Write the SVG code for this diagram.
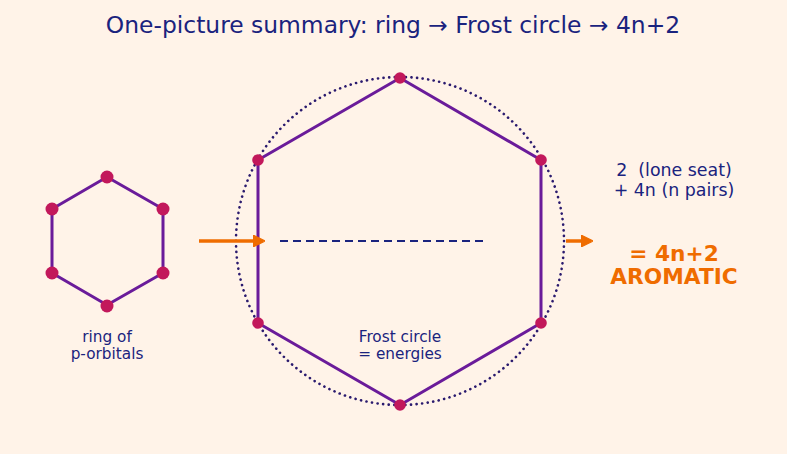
<svg xmlns="http://www.w3.org/2000/svg" width="787" height="454" viewBox="0 0 787 454">
<defs>
<style>
text{font-family:"DejaVu Sans","Liberation Sans",sans-serif;fill:#1a237e;text-anchor:middle;white-space:pre}
.hex{fill:none;stroke:#6a1b9a;stroke-width:3;stroke-linejoin:round}
.dot{fill:#c2185b}
.arr{stroke:#ef6c00;stroke-width:3.5;fill:none;marker-end:url(#ah)}
.big{fill:#ef6c00;font-weight:bold;font-size:21.7px}
.lbl{font-size:15.3px}
.cnt{font-size:17.4px}
</style>
<marker id="ah" viewBox="0 0 10 10" refX="6" refY="5" markerWidth="3.5" markerHeight="3.5" orient="auto" markerUnits="strokeWidth">
<path d="M0,0 L10,5 L0,10 z" fill="#ef6c00" stroke="#ef6c00" stroke-linejoin="round"/>
</marker>
</defs>
<rect width="787" height="454" fill="#fff3e8"/>
<text x="393" y="33" font-size="23.4">One-picture summary: ring → Frost circle → 4n+2</text>
<g id="ring">
<polygon class="hex" points="107,177 163,209 163,273 107,305 52,273 52,209"/>
<circle class="dot" cx="107" cy="177" r="6.5"/>
<circle class="dot" cx="163" cy="209" r="6.5"/>
<circle class="dot" cx="163" cy="273" r="6.5"/>
<circle class="dot" cx="107" cy="306" r="6.5"/>
<circle class="dot" cx="52" cy="273" r="6.5"/>
<circle class="dot" cx="52" cy="209" r="6.5"/>
<text class="lbl" x="107" y="342">ring of</text>
<text class="lbl" x="107" y="359">p-orbitals</text>
</g>
<g id="frost">
<circle cx="400" cy="241" r="164" fill="none" stroke="#2a1a6e" stroke-width="2.6" stroke-dasharray="0.1 5.5" stroke-linecap="round"/>
<polygon class="hex" points="400,78 541,160 541,323 400,405 258,323 258,160"/>
<circle class="dot" cx="400" cy="78" r="5.8"/>
<circle class="dot" cx="541" cy="160" r="5.8"/>
<circle class="dot" cx="541" cy="323" r="5.8"/>
<circle class="dot" cx="400" cy="405" r="5.8"/>
<circle class="dot" cx="258" cy="323" r="5.8"/>
<circle class="dot" cx="258" cy="160" r="5.8"/>
<line x1="280" y1="241" x2="484" y2="241" stroke="#1a237e" stroke-width="2" stroke-dasharray="8 5"/>
<text class="lbl" x="400" y="342">Frost circle</text>
<text class="lbl" x="400" y="359">= energies</text>
</g>
<g id="count">
<text class="cnt" x="674" y="176" xml:space="preserve">2  (lone seat)</text>
<text class="cnt" x="674" y="196">+ 4n (n pairs)</text>
<text class="big" x="674" y="261">= 4n+2</text>
<text class="big" x="674" y="284">AROMATIC</text>
</g>
<g id="connectors">
<line class="arr" x1="199" y1="241" x2="260" y2="241"/>
<line class="arr" x1="566" y1="241" x2="588" y2="241"/>
</g>
</svg>
